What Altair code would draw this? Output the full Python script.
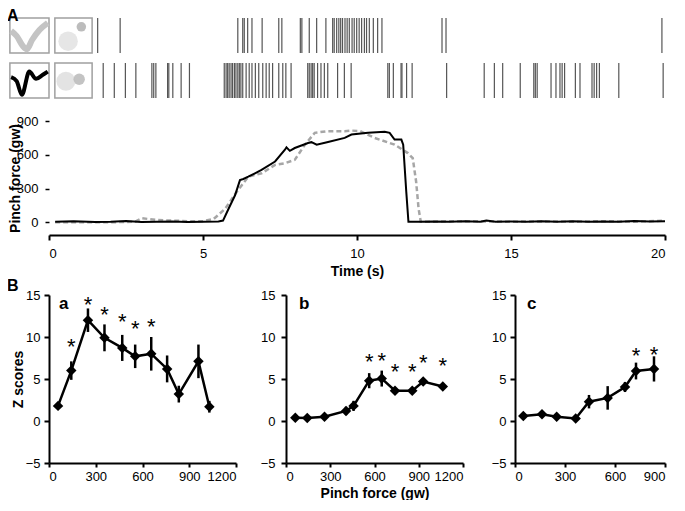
import altair as alt
import pandas as pd

FONT = "Liberation Sans"

# ---------------- Panel A: spike rasters (spike times, s) ----------------
unit1_spikes = [1.58, 2.31, 6.13, 6.29, 6.34, 6.45, 6.59, 6.92, 7.46, 7.56, 8.16, 8.21, 8.45, 8.69, 8.99,
                9.21, 9.26, 9.34, 9.41, 9.47, 9.53, 9.61, 9.68, 9.75, 9.84, 9.91, 9.99, 10.07, 10.15,
                10.24, 10.31, 10.40, 10.53, 10.67, 10.81, 12.76, 12.89, 19.90]
unit2_spikes = [1.76, 2.12, 2.48, 2.82, 3.34, 3.40, 3.47, 3.85, 3.89, 4.02, 4.29, 4.56,
                5.69, 5.75, 5.80, 5.85, 5.91, 5.96, 6.02, 6.07, 6.13, 6.18, 6.23, 6.29, 6.40, 6.50,
                6.59, 6.70, 6.81, 6.94, 7.05, 7.15, 7.26, 7.46, 7.59, 7.69, 7.86, 8.40, 8.45, 8.51,
                8.56, 8.61, 8.72, 8.83, 8.94, 9.05, 9.37, 9.59, 9.81, 11.00, 11.05, 11.18, 11.43,
                11.46, 11.61, 11.79, 12.91, 14.13, 14.46, 14.73, 15.30, 15.74, 15.79, 15.85, 16.30,
                16.46, 16.59, 16.66, 16.74, 17.09, 17.24, 17.63, 17.70, 17.78, 17.87, 18.50, 19.94]
row_lo = {"unit1": 1.125, "unit2": 0.0}
row_hi = {"unit1": 2.0, "unit2": 0.875}

# thumbnails (spike waveform box, cluster box) for each unit
box_unit = ["unit1", "unit1", "unit2", "unit2"]
box_t0 = [-1.27, 0.19, -1.27, 0.19]
box_t1 = [0.0, 1.40, 0.0, 1.40]
wave1_t = [-1.23, -1.05, -0.85, -0.72, -0.55, -0.31, -0.04]
wave1_y = [1.68, 1.55, 1.30, 1.22, 1.45, 1.70, 1.88]
wave2_t = [-1.23, -1.05, -0.88, -0.64, -0.42, -0.2, -0.04]
wave2_y = [0.52, 0.42, 0.08, 0.66, 0.48, 0.58, 0.66]
cloud_t = [0.62, 1.05, 0.55, 0.98]
cloud_y = [1.42, 1.78, 0.42, 0.47]
cloud_c = ["#e3e3e3", "#b5b5b5", "#e0e0e0", "#bdbdbd"]
cloud_s = [380, 90, 360, 130]

# ---------------- Panel A: pinch force traces ----------------
black_t = [0.2, 0.8, 1.5, 2.0, 2.5, 3.0, 3.5, 4.0, 4.5, 5.0, 5.5, 5.65, 5.83, 6.04, 6.2, 6.31, 6.47,
           6.9, 7.34, 7.66, 7.71, 7.82, 7.98, 8.41, 8.52, 8.69, 9.06, 9.6, 9.82, 10.36, 10.9, 11.06,
           11.22, 11.44, 11.5, 11.6, 11.67, 12.0, 12.5, 13.0, 13.5, 14.0, 14.2, 14.5, 15.0, 15.5,
           16.0, 16.5, 17.0, 17.5, 18.0, 18.5, 19.0, 19.5, 20.0]
black_v = [5, 10, 3, 5, 12, 3, 5, 8, 3, 5, 8, 15, 120, 240, 375, 385, 405,
           465, 540, 645, 666, 635, 660, 705, 712, 690, 714, 750, 780, 795, 805, 795,
           735, 735, 690, 270, 5, 5, 8, 5, 10, 5, 15, 5, 8, 5,
           10, 5, 10, 5, 8, 5, 12, 8, 10]
grey_t = [0.2, 1.0, 2.0, 2.8, 3.02, 3.5, 4.0, 4.5, 5.0, 5.35, 5.72, 6.04, 6.26, 6.47, 6.9, 7.34,
          7.66, 7.98, 8.31, 8.63, 9.06, 9.6, 9.82, 10.1, 10.57, 11.22, 11.65, 11.81, 11.92, 12.0,
          12.07, 12.5, 13.0, 14.0, 15.0, 16.0, 17.0, 18.0, 19.0, 20.0]
grey_v = [0, 0, 0, 5, 36, 20, 15, 10, 10, 30, 120, 250, 330, 405, 435, 510,
          525, 555, 690, 795, 810, 810, 815, 810, 750, 690, 615, 570, 360, 120,
          5, 5, 10, 8, 5, 8, 5, 10, 5, 15]
force_ticks = [0, 300, 600, 900]
time_ticks = [0, 5, 10, 15, 20]

# ---------------- Panel B: Z scores vs pinch force ----------------
a_x = [58, 143, 250, 356, 470, 553, 656, 758, 833, 959, 1029]
a_y = [1.8, 6.0, 12.0, 9.9, 8.7, 7.7, 8.0, 6.2, 3.2, 7.1, 1.7]
a_err = [0.2, 1.1, 1.4, 1.6, 1.55, 1.4, 2.0, 1.6, 1.0, 2.0, 0.7]
a_star = [None, 9.4, 14.4, 13.2, 12.4, 11.6, 11.75, None, None, None, None]

b_x = [63, 144, 261, 407, 458, 564, 649, 739, 856, 930, 1063]
b_y = [0.4, 0.35, 0.5, 1.2, 1.8, 4.8, 5.05, 3.6, 3.6, 4.7, 4.1]
b_err = [0.2, 0.2, 0.2, 0.5, 0.6, 0.9, 0.95, 0.2, 0.2, 0.2, 0.2]
b_star = [None, None, None, None, None, 7.57, 7.7, 6.38, 6.38, 7.45, 7.17]

c_x = [50, 162, 250, 364, 444, 556, 660, 726, 834]
c_y = [0.6, 0.8, 0.5, 0.3, 2.3, 2.75, 4.05, 5.95, 6.2]
c_err = [0.3, 0.3, 0.4, 0.4, 0.8, 1.4, 0.6, 1.0, 1.5]
c_star = [None, None, None, None, None, None, None, 8.3, 8.4]

# ---------------- build raster ----------------
sp = pd.DataFrame(
    [{"t": t, "lo": row_lo["unit1"], "hi": row_hi["unit1"]} for t in unit1_spikes]
    + [{"t": t, "lo": row_lo["unit2"], "hi": row_hi["unit2"]} for t in unit2_spikes]
)
xr = alt.Scale(domain=[0, 20], nice=False)
yr = alt.Scale(domain=[-0.425, 2.0], nice=False)

spikes = alt.Chart(sp).mark_rule(color="#555555", strokeWidth=1.2).encode(
    x=alt.X("t:Q", scale=xr, axis=None),
    y=alt.Y("lo:Q", scale=yr, axis=None),
    y2="hi:Q",
)
boxes_df = pd.DataFrame({
    "t0": box_t0, "t1": box_t1,
    "lo": [row_lo[u] for u in box_unit], "hi": [row_hi[u] for u in box_unit],
})
boxes = alt.Chart(boxes_df).mark_rect(fill="white", stroke="#a0a0a0", strokeWidth=1.5).encode(
    x=alt.X("t0:Q", scale=xr, axis=None), x2="t1:Q",
    y=alt.Y("lo:Q", scale=yr, axis=None), y2="hi:Q",
)
cloud = alt.Chart(pd.DataFrame({"t": cloud_t, "y": cloud_y, "c": cloud_c, "s": cloud_s})).mark_circle(
    opacity=0.9).encode(
    x=alt.X("t:Q", scale=xr, axis=None), y=alt.Y("y:Q", scale=yr, axis=None),
    color=alt.Color("c:N", scale=None, legend=None), size=alt.Size("s:Q", scale=None, legend=None),
)
wave1 = alt.Chart(pd.DataFrame({"t": wave1_t, "y": wave1_y})).mark_line(
    color="#c4c4c4", strokeWidth=6, interpolate="monotone").encode(
    x=alt.X("t:Q", scale=xr, axis=None), y=alt.Y("y:Q", scale=yr, axis=None))
wave2 = alt.Chart(pd.DataFrame({"t": wave2_t, "y": wave2_y})).mark_line(
    color="black", strokeWidth=4, interpolate="monotone").encode(
    x=alt.X("t:Q", scale=xr, axis=None), y=alt.Y("y:Q", scale=yr, axis=None))
labA = alt.Chart(pd.DataFrame({"l": ["A"]})).mark_text(
    font=FONT, fontSize=16, fontWeight="bold", align="left", baseline="middle").encode(
    x=alt.value(-42), y=alt.value(-2), text="l:N")

raster = alt.layer(boxes, cloud, wave1, wave2, spikes, labA).properties(width=616, height=97)

# ---------------- build force chart ----------------
fx = alt.Scale(domain=[0, 20], nice=False)
fy = alt.Scale(domain=[-113, 900], nice=False, zero=False)
black_df = pd.DataFrame({"t": black_t, "v": black_v})
grey_df = pd.DataFrame({"t": grey_t, "v": grey_v})
xaxis_f = alt.Axis(values=time_ticks, title="Time (s)", tickSize=5, labelPadding=7,
                   titlePadding=4, format="d", labelOverlap=False)
yaxis_f = alt.Axis(values=force_ticks, title="Pinch force (gw)", domain=False, tickSize=4,
                   labelPadding=7, titlePadding=-6, tickWidth=1.5, format="d",
                   labelOverlap=False, labelBound=False)
X_f = alt.X("t:Q", scale=fx, axis=xaxis_f)
Y_f = alt.Y("v:Q", scale=fy, axis=yaxis_f)
grey_line = alt.Chart(grey_df).mark_line(color="#a6a6a6", strokeWidth=2.5, strokeDash=[5, 3]).encode(
    x=X_f, y=Y_f)
black_line = alt.Chart(black_df).mark_line(color="black", strokeWidth=2).encode(x=X_f, y=Y_f)
force = alt.layer(grey_line, black_line).properties(width=616, height=114)


# ---------------- build panels ----------------
def panel(xs, ys, errs, stars, xmax, width, letter, lx, ytitle=None, xtitle=None, big=None,
          label_pad=4, extra_left=None):
    df = pd.DataFrame({"x": xs, "y": ys,
                       "lo": [y - e for y, e in zip(ys, errs)],
                       "hi": [y + e for y, e in zip(ys, errs)]})
    st = pd.DataFrame({"x": [x for x, s in zip(xs, stars) if s is not None],
                       "s": [s for s in stars if s is not None]})
    st["txt"] = "*"
    xs_ = alt.Scale(domain=[0, xmax], nice=False)
    ys_ = alt.Scale(domain=[-5, 15], nice=False)
    xkw = dict(values=list(range(0, xmax + 1, 300)), tickSize=4, labelPadding=3, titlePadding=3,
               format="d", labelOverlap=False)
    ykw = dict(values=[-5, 0, 5, 10, 15], tickSize=5, labelPadding=label_pad, titlePadding=0,
               format="d", labelOverlap=False)
    xax = alt.Axis(title=xtitle, **xkw) if xtitle else alt.Axis(**xkw)
    yax = alt.Axis(title=ytitle, **ykw) if ytitle else alt.Axis(**ykw)
    xenc = alt.X("x:Q", scale=xs_, axis=xax)
    yenc = alt.Y("y:Q", scale=ys_, axis=yax)
    if not xtitle:
        xenc = alt.X("x:Q", scale=xs_, axis=xax, title="")
    if not ytitle:
        yenc = alt.Y("y:Q", scale=ys_, axis=yax, title="")
    line = alt.Chart(df).mark_line(color="black", strokeWidth=2.5).encode(x=xenc, y=yenc)
    err = alt.Chart(df).mark_rule(color="black", strokeWidth=2.5).encode(
        x=alt.X("x:Q", scale=xs_), y=alt.Y("lo:Q", scale=ys_), y2="hi:Q")
    pts = alt.Chart(df).mark_point(shape="diamond", filled=True, color="black", size=110,
                                   opacity=1).encode(
        x=alt.X("x:Q", scale=xs_), y=alt.Y("y:Q", scale=ys_))
    stars_l = alt.Chart(st).mark_text(font=FONT, fontSize=22, color="black",
                                      baseline="alphabetic", dy=12).encode(
        x=alt.X("x:Q", scale=xs_), y=alt.Y("s:Q", scale=ys_), text="txt:N")
    lab = alt.Chart(pd.DataFrame({"l": [letter]})).mark_text(
        font=FONT, fontSize=17, fontWeight="bold", baseline="middle", align="left").encode(
        x=alt.value(lx), y=alt.value(9), text="l:N")
    layers = [line, err, pts, stars_l, lab]
    if big:
        layers.append(alt.Chart(pd.DataFrame({"l": [big]})).mark_text(
            font=FONT, fontSize=16, fontWeight="bold", baseline="middle", align="left").encode(
            x=alt.value(-42), y=alt.value(-9), text="l:N"))
    if extra_left is not None:
        layers.append(alt.Chart(pd.DataFrame({"l": [0]})).mark_rule(opacity=0).encode(
            x=alt.value(extra_left), y=alt.value(60), y2=alt.value(70)))
    return alt.layer(*layers).properties(width=width, height=168)


pa = panel(a_x, a_y, a_err, a_star, 1200, 187, "a", 10, ytitle="Z scores", big="B")
pb = panel(b_x, b_y, b_err, b_star, 1200, 177, "b", 13, xtitle="Pinch force (gw)", label_pad=6)
pc = panel(c_x, c_y, c_err, c_star, 900, 150, "c", 12, label_pad=4, extra_left=-28)

bottom = alt.hconcat(pa, pb, pc, spacing=23)

chart = alt.vconcat(raster, force, bottom, spacing=0).properties(
    padding={"left": -9, "top": 0, "right": 0, "bottom": 0}
).configure_view(stroke=None).configure_axis(
    labelFont=FONT, labelFontSize=13, labelColor="black",
    titleFont=FONT, titleFontSize=14, titleFontWeight="bold", titleColor="black",
    domainColor="black", domainWidth=2, tickColor="black", tickWidth=2, grid=False,
)

chart.save("out.html", embed_options={"renderer": "svg", "actions": False})
